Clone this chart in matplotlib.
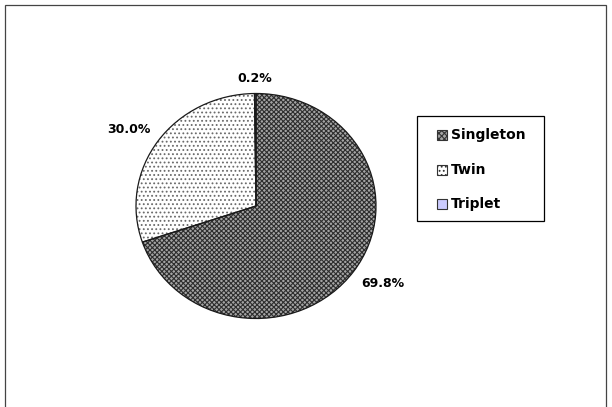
import numpy as np
import matplotlib
matplotlib.use("Agg")
import matplotlib.pyplot as plt
from matplotlib.patches import Rectangle

categories = ["Singleton", "Twin", "Triplet"]
shares = [69.8, 30.0, 0.2]
pct_labels = ["69.8%", "30.0%", "0.2%"]

face_colors = ["#a4a4a4", "#ffffff", "#ccccff"]
hatch_colors = ["#2e2e2e", "#6a6a6a", None]
hatches = ["xxxxxxx", "....", None]

plt.rcParams["hatch.linewidth"] = 0.8
W, H = 612, 407
fig = plt.figure(figsize=(W / 100, H / 100), dpi=100)
ax = fig.add_axes([0, 0, 1, 1])

# textured fill
wedges, _ = ax.pie(shares, startangle=90, counterclock=False,
                   colors=face_colors, radius=1.0,
                   wedgeprops=dict(linewidth=0))
for w, hc, hp in zip(wedges, hatch_colors, hatches):
    if hp:
        w.set_hatch(hp)
        w.set_edgecolor(hc)
        w.set_linewidth(0)

# slice outlines
ax.pie(shares, startangle=90, counterclock=False, radius=1.0,
       wedgeprops=dict(fill=False, edgecolor="#1a1a1a", linewidth=0.9))

# pie centre and radii in pixels (slightly elliptical)
cx, cy = 256, 201
rx, ry = 120, 112.5
ax.set_aspect("auto")
ax.set_xlim(-cx / rx, (W - cx) / rx)
ax.set_ylim(-cy / ry, (H - cy) / ry)
ax.set_axis_off()

# percentage labels just outside the rim, anchored by their near corner
for w, txt in zip(wedges, pct_labels):
    ang = np.deg2rad((w.theta1 + w.theta2) / 2)
    c, s = np.cos(ang), np.sin(ang)
    ha = "left" if c > 0.1 else ("right" if c < -0.1 else "center")
    va = "bottom" if s > 0 else "top"
    ax.text(1.08 * c, 1.08 * s, txt, ha=ha, va=va,
            fontsize=9, fontweight="bold", family="DejaVu Sans")

def fx(x):
    return x / W

def fy(y_top):
    return 1 - y_top / H

# legend box
fig.patches.append(Rectangle((fx(417), fy(221)), fx(544) - fx(417), fy(116) - fy(221),
                             transform=fig.transFigure, fill=False,
                             edgecolor="black", linewidth=0.9))
row0, row_step = 135, 34.5
for i, (name, fc, hp) in enumerate(zip(categories, face_colors,
                                       ["xxxxxx", "....", None])):
    yc = row0 + i * row_step
    fig.patches.append(Rectangle((fx(437), fy(yc + 5)), fx(10), 10 / H,
                                 transform=fig.transFigure, facecolor=fc,
                                 edgecolor="#333333", hatch=hp, linewidth=0.8))
    fig.text(fx(451), fy(yc), name, ha="left", va="center",
             fontsize=10, fontweight="bold", family="DejaVu Sans")

# outer chart frame
fig.patches.append(Rectangle((fx(5), -0.01), fx(606) - fx(5), fy(5) + 0.01,
                             transform=fig.transFigure, fill=False,
                             edgecolor="#444444", linewidth=0.9))
fig.savefig("out.png", dpi=100)
